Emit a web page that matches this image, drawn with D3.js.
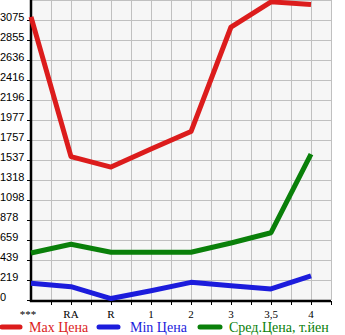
<!DOCTYPE html>
<html><head><meta charset="utf-8">
<script src="https://cdn.jsdelivr.net/npm/d3@7"></script>
<style>html,body{margin:0;padding:0;background:#fff;}svg{display:block;}</style>
</head><body>
<script>
const categories = ["***", "RA", "R", "1", "2", "3", "3,5", "4"];
const maxPrice = [3110, 1574, 1460, 1658, 1850, 2998, 3274, 3245];
const minPrice = [183, 146, 16, 102, 194, 157, 121, 264];
const avgPrice = [516, 612, 524, 524, 524, 626, 739, 1603];
const yTickLabels = ["0","219","439","659","878","1098","1318","1537","1757","1977","2196","2416","2636","2855","3075"];
const seriesNames = ["Max Цена", "Min Цена", "Сред.Цена, т.йен"];
const seriesColors = ["#dc1c1c", "#1c1cdc", "#0a800a"];

const W = 345, H = 335;
const svg = d3.select("body").append("svg").attr("width", W).attr("height", H);

const yMaxTick = 3075;
const step = yMaxTick / 14;
const x = d3.scaleLinear().domain([0, 7.5]).range([31, 331]);
const y = d3.scaleLinear().domain([0, step * 15]).range([300, 0]);

// plot background
svg.append("rect").attr("x", x(0)).attr("y", y(step * 15))
  .attr("width", x(7.5) - x(0)).attr("height", y(0) - y(step * 15)).attr("fill", "#f6f6f6");

// grid
const g = svg.append("g");
for (let i = 1; i <= 15; i++) {
  g.append("line").attr("x1", x(i / 2)).attr("x2", x(i / 2))
    .attr("y1", y(0)).attr("y2", y(step * 15)).attr("stroke", "#c0c0c0").attr("stroke-width", 1)
    .attr("shape-rendering", "crispEdges");
}
for (let i = 1; i <= 15; i++) {
  g.append("line").attr("x1", x(0)).attr("x2", x(7.5))
    .attr("y1", y(i * step)).attr("y2", y(i * step)).attr("stroke", "#c0c0c0").attr("stroke-width", 1)
    .attr("shape-rendering", "crispEdges");
}

// y axis
const yTicks = yTickLabels.map((t, i) => i * step);
const yAxis = d3.axisLeft(y).tickValues(yTicks).tickSize(4).tickFormat((d, i) => yTickLabels[i]);
const ya = svg.append("g").attr("transform", `translate(${x(0)},0)`).call(yAxis);
ya.select(".domain").remove();
ya.selectAll(".tick line").attr("stroke", "#000").attr("shape-rendering", "crispEdges");
ya.selectAll(".tick text").attr("x", -x(0)).attr("dy", 0).attr("text-anchor", "start")
  .attr("font-family", "Liberation Sans, Arial, sans-serif").attr("font-size", 11).attr("fill", "#000");
svg.append("line").attr("x1", x(0)).attr("x2", x(0)).attr("y1", y(step * 15)).attr("y2", y(0) + 2)
  .attr("stroke", "#000").attr("stroke-width", 2.5);

// x axis
const xAxis = d3.axisBottom(x).tickValues(d3.range(1, 16).map(i => i / 2)).tickSize(4).tickFormat("");
const xa = svg.append("g").attr("transform", `translate(0,${y(0) + 1})`).call(xAxis);
xa.select(".domain").remove();
xa.selectAll(".tick line").attr("stroke", "#000").attr("shape-rendering", "crispEdges");
svg.append("line").attr("x1", x(0) - 1).attr("x2", x(7.5)).attr("y1", y(0) + 1).attr("y2", y(0) + 1)
  .attr("stroke", "#000").attr("stroke-width", 2.5);
svg.selectAll("text.xl").data(categories).enter().append("text").attr("class", "xl")
  .attr("x", (d, i) => x(i) - (i === 0 ? 3 : 0)).attr("y", 318).attr("text-anchor", "middle")
  .attr("font-family", "Liberation Serif, Times New Roman, serif").attr("font-size", 11).attr("fill", "#000")
  .text(d => d);

// lines
const line = d3.line().x((d, i) => x(i)).y(d => y(d));
[maxPrice, minPrice, avgPrice].forEach((s, k) => {
  svg.append("path").datum(s).attr("d", line).attr("fill", "none")
    .attr("stroke", seriesColors[k]).attr("stroke-width", 5)
    .attr("stroke-linejoin", "round").attr("stroke-linecap", "butt");
});

// legend
const legendX = [[2, 20, 29], [99, 118, 130], [200, 220, 229]];
seriesNames.forEach((n, k) => {
  svg.append("line").attr("x1", legendX[k][0]).attr("x2", legendX[k][1]).attr("y1", 327).attr("y2", 327)
    .attr("stroke", seriesColors[k]).attr("stroke-width", 5).attr("stroke-linecap", "round");
  svg.append("text").attr("x", legendX[k][2]).attr("y", 332)
    .attr("font-family", "Liberation Serif, Times New Roman, serif").attr("font-size", 14)
    .attr("fill", seriesColors[k]).text(n);
});
</script>
</body></html>
